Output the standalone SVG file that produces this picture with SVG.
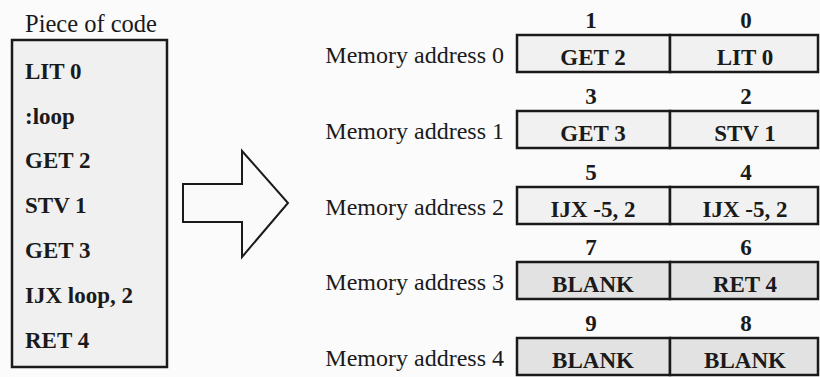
<svg xmlns="http://www.w3.org/2000/svg" width="820" height="377" viewBox="0 0 820 377">
<style>
  text { font-family: "Liberation Serif", "Times New Roman", serif; fill: #1a1a1a; }
  .title { font-size: 24.5px; }
  .code { font-size: 23px; font-weight: bold; }
  .label { font-size: 24px; text-anchor: end; }
  .num { font-size: 23px; font-weight: bold; text-anchor: middle; }
  .cell { font-size: 23px; font-weight: bold; text-anchor: middle; }
  .box { stroke: #1a1a1a; stroke-width: 2.5; }
  .light { fill: #f1f1f1; }
  .dark { fill: #e2e2e2; }
</style>
<rect width="820" height="377" fill="#fbfbfb"/>

<g id="code">
  <text class="title" x="25" y="32">Piece of code</text>
  <rect class="box" x="12" y="40" width="155" height="327" fill="#f0f0f0"/>
  <text class="code" x="25" y="79">LIT 0</text>
  <text class="code" x="25" y="124">:loop</text>
  <text class="code" x="25" y="168">GET 2</text>
  <text class="code" x="25" y="213">STV 1</text>
  <text class="code" x="25" y="258">GET 3</text>
  <text class="code" x="25" y="303">IJX loop, 2</text>
  <text class="code" x="25" y="348">RET 4</text>
</g>

<g id="connectors">
  <polygon points="183,184 242,184 242,151 288,203 242,257 242,222 183,222" fill="#fafafa" stroke="#1a1a1a" stroke-width="2"/>
</g>

<g id="mem0">
  <text class="num" x="591" y="28">1</text>
  <text class="num" x="746" y="28">0</text>
  <text class="label" x="504" y="63">Memory address 0</text>
  <rect class="box light" x="517" y="35" width="153" height="37"/>
  <rect class="box light" x="670" y="35" width="148" height="37"/>
  <text class="cell" x="593" y="65">GET 2</text>
  <text class="cell" x="745" y="65">LIT 0</text>
</g>

<g id="mem1">
  <text class="num" x="591" y="104">3</text>
  <text class="num" x="746" y="104">2</text>
  <text class="label" x="504" y="139">Memory address 1</text>
  <rect class="box light" x="517" y="111" width="153" height="37"/>
  <rect class="box light" x="670" y="111" width="148" height="37"/>
  <text class="cell" x="593" y="141">GET 3</text>
  <text class="cell" x="745" y="141">STV 1</text>
</g>

<g id="mem2">
  <text class="num" x="591" y="180">5</text>
  <text class="num" x="746" y="180">4</text>
  <text class="label" x="504" y="215">Memory address 2</text>
  <rect class="box light" x="517" y="187" width="153" height="37"/>
  <rect class="box light" x="670" y="187" width="148" height="37"/>
  <text class="cell" x="593" y="217">IJX -5, 2</text>
  <text class="cell" x="745" y="217">IJX -5, 2</text>
</g>

<g id="mem3">
  <text class="num" x="591" y="255">7</text>
  <text class="num" x="746" y="255">6</text>
  <text class="label" x="504" y="290">Memory address 3</text>
  <rect class="box dark" x="517" y="262" width="153" height="37"/>
  <rect class="box dark" x="670" y="262" width="148" height="37"/>
  <text class="cell" x="593" y="292">BLANK</text>
  <text class="cell" x="745" y="292">RET 4</text>
</g>

<g id="mem4">
  <text class="num" x="591" y="331">9</text>
  <text class="num" x="746" y="331">8</text>
  <text class="label" x="504" y="366">Memory address 4</text>
  <rect class="box dark" x="517" y="338" width="153" height="37"/>
  <rect class="box dark" x="670" y="338" width="148" height="37"/>
  <text class="cell" x="593" y="368">BLANK</text>
  <text class="cell" x="745" y="368">BLANK</text>
</g>
</svg>
